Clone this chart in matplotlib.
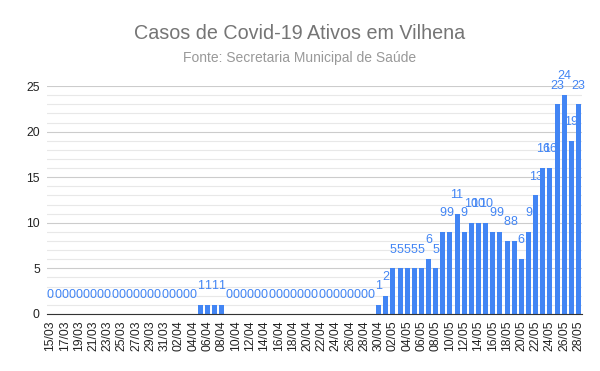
import numpy as np
import matplotlib
matplotlib.use("Agg")
import matplotlib.pyplot as plt
from matplotlib.ticker import MultipleLocator

plt.rcParams["font.family"] = ["Liberation Sans", "DejaVu Sans"]

# dates 15/03 .. 28/05
march = ["%02d/03" % d for d in range(15, 32)]
april = ["%02d/04" % d for d in range(1, 31)]
may = ["%02d/05" % d for d in range(1, 29)]
dates = march + april + may

casos_marco = [0] * 17
casos_abril = [0, 0, 0, 0, 1, 1, 1, 1] + [0] * 21 + [1]
casos_maio = [2, 5, 5, 5, 5, 5, 6, 5, 9, 9, 11, 9, 10, 10, 10, 9, 9, 8, 8, 6,
              9, 13, 16, 16, 23, 24, 19, 23]
casos = casos_marco + casos_abril + casos_maio

blue = "#4285f4"

fig = plt.figure(figsize=(6, 3.71), dpi=100)
ax = fig.add_axes([0.078, 0.154, 0.892, 0.614])

x = np.arange(len(dates))
ax.bar(x, casos, width=0.7, color=blue, zorder=3)

# labels over the bars
for i, v in enumerate(casos):
    ax.annotate(str(v), (i, v), xytext=(0, 13.5), textcoords="offset points",
                ha="center", va="center", fontsize=9, color=blue, zorder=4)

ax.set_xlim(-0.5, len(dates) - 0.5)
ax.set_ylim(0, 25)
ax.yaxis.set_major_locator(MultipleLocator(5))
ax.yaxis.set_minor_locator(MultipleLocator(1))
ax.grid(axis="y", which="major", color="#cccccc", linewidth=0.8, zorder=0)
ax.grid(axis="y", which="minor", color="#e8e8e8", linewidth=0.8, zorder=0)

ax.set_xticks(x[::2])
ax.set_xticklabels(dates[::2], rotation=90, fontsize=8.7, color="#222222")
ax.tick_params(axis="y", labelsize=8.7, labelcolor="#222222", length=0, pad=5)
ax.tick_params(axis="y", which="minor", length=0)
ax.tick_params(axis="x", length=0, pad=5)

for s in ["top", "right", "left"]:
    ax.spines[s].set_visible(False)
ax.spines["bottom"].set_color("#333333")
ax.spines["bottom"].set_zorder(5)

fig.text(0.5, 0.91, "Casos de Covid-19 Ativos em Vilhena", ha="center",
         va="center", fontsize=14.2, color="#757575")
fig.text(0.5, 0.843, "Fonte: Secretaria Municipal de Saúde", ha="center",
         va="center", fontsize=10, color="#999999")

fig.savefig("out.png", dpi=100)
